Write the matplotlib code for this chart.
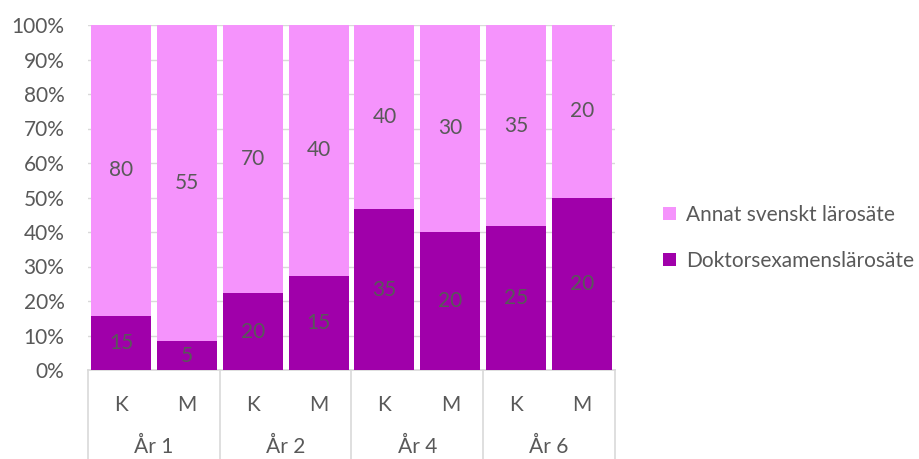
import matplotlib
matplotlib.use("Agg")
import matplotlib.pyplot as plt
import numpy as np

plt.rcParams['font.family'] = ['Lato', 'DejaVu Sans']

sub_labels = ["K", "M", "K", "M", "K", "M", "K", "M"]
groups = ["År 1", "År 2", "År 4", "År 6"]
doktor = [15, 5, 20, 15, 35, 20, 25, 20]
annat = [80, 55, 70, 40, 40, 30, 35, 20]
series_names = ["Doktorsexamenslärosäte", "Annat svenskt lärosäte"]
yticks = [0, 10, 20, 30, 40, 50, 60, 70, 80, 90, 100]

c_dark = "#A000AA"
c_light = "#F593FC"
txt = "#595959"
grid_c = "#D9D9D9"
fs = 15

W, H = 920, 459
fig = plt.figure(figsize=(9.2, 4.59), dpi=100)
x0, x1 = 88, 615
y_top, y_bot = 25, 370
ax = fig.add_axes([x0 / W, (H - y_bot) / H, (x1 - x0) / W, (y_bot - y_top) / H])

d = np.array(doktor, float)
a = np.array(annat, float)
tot = d + a
dp = d / tot * 100
ap = a / tot * 100
x = np.arange(len(sub_labels))
bw = 0.91
b1 = ax.bar(x, dp, bw, color=c_dark, label=series_names[0], zorder=3)
b2 = ax.bar(x, ap, bw, bottom=dp, color=c_light, label=series_names[1], zorder=3)

for i in range(len(x)):
    ax.text(x[i], dp[i] / 2, f"{doktor[i]}", ha="center", va="center",
            fontsize=fs, color=txt, zorder=4)
    ax.text(x[i], dp[i] + ap[i] / 2, f"{annat[i]}", ha="center", va="center",
            fontsize=fs, color=txt, zorder=4)

ax.set_xlim(-0.5, len(x) - 0.5)
ax.set_ylim(0, 100)
ax.set_yticks(yticks)
ax.set_yticklabels([f"{t}%" for t in yticks], fontsize=fs, color=txt)
ax.tick_params(axis="y", length=0, pad=17)
ax.tick_params(axis="x", length=0, labelbottom=False)
ax.yaxis.grid(True, color=grid_c, lw=1, zorder=0)
for s in ["top", "right", "left"]:
    ax.spines[s].set_visible(False)
ax.spines["bottom"].set_color(grid_c)
ax.spines["bottom"].set_linewidth(1.2)

# multi-level category axis
trans = ax.get_xaxis_transform()
def ay(py):
    return (y_bot - py) / (y_bot - y_top)

for i, lab in enumerate(sub_labels):
    ax.text(x[i], ay(405), lab, transform=trans, ha="center", va="center",
            fontsize=fs, color=txt, clip_on=False)
for g, lab in enumerate(groups):
    ax.text(2 * g + 0.5, ay(447), lab, transform=trans, ha="center", va="center",
            fontsize=fs, color=txt, clip_on=False)
for b in [-0.5, 1.5, 3.5, 5.5, 7.5]:
    ax.plot([b, b], [0, ay(462)], transform=trans, color=grid_c, lw=1.2,
            clip_on=False, zorder=5)

handles = [b2, b1]
leg = fig.legend(handles, [series_names[1], series_names[0]],
                 loc="center left", bbox_to_anchor=(655 / W, (H - 238) / H),
                 frameon=False, fontsize=fs, labelcolor=txt,
                 handlelength=0.6, handleheight=0.6, handletextpad=0.5,
                 labelspacing=1.25, borderaxespad=0)

fig.savefig("out.png", dpi=100)
